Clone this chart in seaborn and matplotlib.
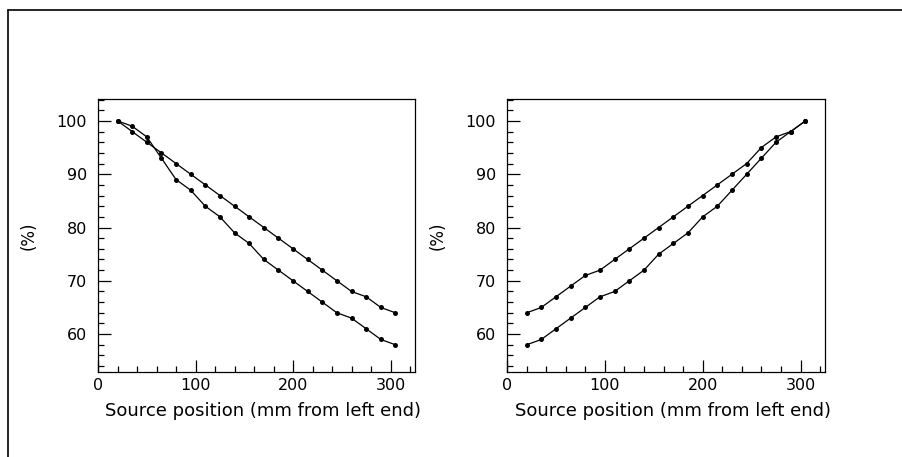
import matplotlib
matplotlib.use("Agg")
import matplotlib.pyplot as plt
from matplotlib.lines import Line2D
from matplotlib.ticker import MultipleLocator
import seaborn as sns
import pandas as pd

# ---- data ----
positions = [20, 35, 50, 65, 80, 95, 110, 125, 140, 155,
             170, 185, 200, 215, 230, 245, 260, 275, 290, 305]
left_a = [100, 99, 97, 93, 89, 87, 84, 82, 79, 77,
          74, 72, 70, 68, 66, 64, 63, 61, 59, 58]
left_b = [100, 98, 96, 94, 92, 90, 88, 86, 84, 82,
          80, 78, 76, 74, 72, 70, 68, 67, 65, 64]
right_a = [64, 65, 67, 69, 71, 72, 74, 76, 78, 80,
           82, 84, 86, 88, 90, 92, 95, 97, 98, 100]
right_b = [58, 59, 61, 63, 65, 67, 68, 70, 72, 75,
           77, 79, 82, 84, 87, 90, 93, 96, 98, 100]
x_label = "Source position (mm from left end)"
y_label = "(%)"
x_ticks = [0, 100, 200, 300]
y_ticks = [60, 70, 80, 90, 100]

sns.set_style("ticks")
plt.rcParams['font.family'] = ['DejaVu Sans']
plt.rcParams['text.color'] = 'black'
plt.rcParams['axes.labelcolor'] = 'black'
plt.rcParams['xtick.color'] = 'black'
plt.rcParams['ytick.color'] = 'black'

fig = plt.figure(figsize=(9.02, 4.57), dpi=100)

W, H = 902, 457
def axrect(x0, x1, ytop, ybot):
    return [x0 / W, 1 - ybot / H, (x1 - x0) / W, (ybot - ytop) / H]

ax_l = fig.add_axes(axrect(98, 415, 99, 372))
ax_r = fig.add_axes(axrect(507, 825, 99, 372))

panels = [(ax_l, left_a, left_b), (ax_r, right_a, right_b)]
for ax, sa, sb in panels:
    df = pd.DataFrame({
        "x": positions + positions,
        "y": sa + sb,
        "series": ["a"] * len(sa) + ["b"] * len(sb),
    })
    sns.lineplot(data=df, x="x", y="y", units="series", estimator=None,
                 color="black", linewidth=0.9, marker="o", markersize=3.6,
                 markeredgewidth=0, ax=ax)
    ax.set_xlim(0, 325)
    ax.set_ylim(52.9, 104.1)
    ax.set_xticks(x_ticks)
    ax.set_yticks(y_ticks)
    ax.xaxis.set_minor_locator(MultipleLocator(20))
    ax.yaxis.set_minor_locator(MultipleLocator(2))
    ax.tick_params(axis="both", which="major", direction="in", length=9,
                   width=0.9, labelsize=11.5, color="black", labelcolor="black")
    ax.tick_params(axis="both", which="minor", direction="in", length=4.5,
                   width=0.9, color="black")
    ax.tick_params(axis="x", which="major", pad=4)
    ax.tick_params(axis="y", which="major", pad=8)
    ax.tick_params(top=False, right=False, which="both")
    for sp in ax.spines.values():
        sp.set_visible(True)
        sp.set_linewidth(0.9)
        sp.set_color("black")
    ax.set_xlabel(x_label, fontsize=13, ha="right", color="black")
    ax.xaxis.set_label_coords(1.02, -0.11)
    ax.set_ylabel(y_label, fontsize=12, color="black")
    ax.yaxis.set_label_coords(-0.19, 0.5)

# outer frame (top and left lines)
fig.add_artist(Line2D([8 / W, 1.0], [1 - 9.5 / H, 1 - 9.5 / H],
                      transform=fig.transFigure, color="black", linewidth=1.2))
fig.add_artist(Line2D([8 / W, 8 / W], [0.0, 1 - 9.5 / H],
                      transform=fig.transFigure, color="black", linewidth=1.2))

fig.savefig("out.png", dpi=100)
